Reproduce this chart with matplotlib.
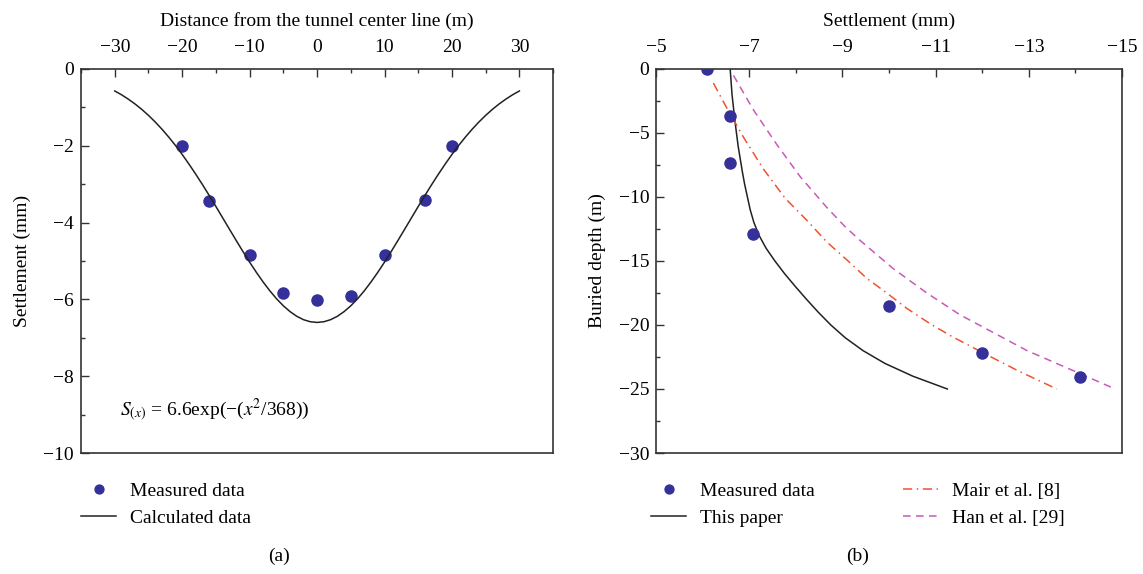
import numpy as np
import matplotlib
matplotlib.use("Agg")
import matplotlib.pyplot as plt
from matplotlib.ticker import MultipleLocator

plt.rcParams['font.family'] = ['Liberation Serif', 'DejaVu Serif']
plt.rcParams['mathtext.fontset'] = 'stix'
plt.rcParams['font.size'] = 14

# (a) transverse settlement trough
meas_x = [-20, -16, -10, -5, 0, 5, 10, 16, 20]
meas_s = [-2.01, -3.44, -4.84, -5.83, -6.02, -5.91, -4.84, -3.42, -2.01]

# calculated curve, half profile x = 0..30 (symmetric)
calc_half_x = list(range(0, 31))
calc_half_s = [-6.600, -6.582, -6.529, -6.441, -6.319, -6.167, -5.985, -5.777,
               -5.546, -5.296, -5.030, -4.751, -4.463, -4.170, -3.875, -3.581,
               -3.292, -3.009, -2.737, -2.475, -2.226, -1.991, -1.772, -1.568,
               -1.380, -1.208, -1.051, -0.910, -0.784, -0.671, -0.572]

# (b) settlement vs buried depth
depth_meas = [0, -3.65, -7.35, -12.9, -18.5, -22.2, -24.1]
sett_meas = [-6.1, -6.59, -6.59, -7.09, -10.0, -12.0, -14.1]

paper_depth = [0, -2, -4, -6, -8, -9, -10, -11, -12, -13, -14, -15, -16, -17,
               -18, -19, -20, -21, -22, -23, -24, -25]
paper_sett = [-6.59, -6.63, -6.69, -6.76, -6.85, -6.9, -6.96, -7.02, -7.1, -7.21,
              -7.36, -7.55, -7.76, -7.99, -8.23, -8.48, -8.75, -9.06, -9.44, -9.91,
              -10.51, -11.25]

mair_depth = [-1.1, -2.8, -5.3, -7.8, -10.1, -11.8, -13.5, -14.9, -16.35, -17.5,
              -18.7, -19.9, -20.9, -22.2, -23.6, -25]
mair_sett = [-6.23, -6.48, -6.87, -7.3, -7.77, -8.23, -8.66, -9.09, -9.52, -9.95,
             -10.38, -10.88, -11.35, -12.03, -12.78, -13.6]

han_depth = [-0.5, -3.2, -5.9, -8.4, -10.8, -12.3, -13.4, -15.6, -17.5, -19.2,
             -20.6, -22.0, -23.8, -25]
han_sett = [-6.66, -7.09, -7.59, -8.09, -8.66, -9.05, -9.38, -10.09, -10.81, -11.52,
            -12.24, -12.96, -14.1, -14.85]

dot_color = '#35309a'
spine_color = '#333333'

fig = plt.figure(figsize=(11.43, 5.74), dpi=100)
ax1 = fig.add_axes([0.0709, 0.2108, 0.413, 0.669])
ax2 = fig.add_axes([0.5740, 0.2108, 0.4077, 0.669])


def style(ax):
    for sp in ax.spines.values():
        sp.set_color(spine_color)
        sp.set_linewidth(1.2)
    ax.tick_params(which='both', direction='in', top=True, bottom=False,
                   left=True, right=False, labeltop=True, labelbottom=False,
                   color=spine_color, width=1)
    ax.tick_params(which='major', length=6)
    ax.tick_params(which='minor', length=3)
    ax.tick_params(axis='x', which='major', pad=9)
    ax.tick_params(axis='y', which='major', pad=5)
    ax.xaxis.set_label_position('top')


legend_kw = dict(frameon=False, borderpad=0, borderaxespad=0, handlelength=1.8,
                 handletextpad=0.7, labelspacing=0.5, markerscale=0.8)

# left panel
hx = np.array(calc_half_x, dtype=float)
hs = np.array(calc_half_s)
cx = np.concatenate([-hx[::-1], hx[1:]])
cs = np.concatenate([hs[::-1], hs[1:]])

ax1.plot(meas_x, meas_s, 'o', color=dot_color, ms=8, label='Measured data')
ax1.plot(cx, cs, '-', color='#222222', lw=1.1, label='Calculated data')
ax1.set_xlim(-35, 35)
ax1.set_ylim(-10, 0)
ax1.xaxis.set_minor_locator(MultipleLocator(5))
ax1.yaxis.set_major_locator(MultipleLocator(2))
ax1.yaxis.set_minor_locator(MultipleLocator(1))
ax1.set_xticks([-30, -20, -10, 0, 10, 20, 30])
style(ax1)
ax1.set_xlabel('Distance from the tunnel center line (m)', labelpad=10)
ax1.set_ylabel('Settlement (mm)', labelpad=9)
ax1.text(0.083, 0.112, r'$S_{(x)}$ = 6.6exp(−($x^2$/368))', transform=ax1.transAxes,
         ha='left', va='center')
ax1.legend(loc='upper left', bbox_to_anchor=(0.0, -0.076), **legend_kw)

# right panel
ax2.plot(sett_meas, depth_meas, 'o', color=dot_color, ms=8, zorder=3, label='Measured data')
ax2.plot(paper_sett, paper_depth, '-', color='#222222', lw=1.1, label='This paper')
ax2.plot(mair_sett, mair_depth, color='#f0522e', lw=1.1, dashes=(6, 3, 1, 3),
         label='Mair et al. [8]')
ax2.plot(han_sett, han_depth, color='#c85ab8', lw=1.1, dashes=(5, 3.5),
         label='Han et al. [29]')
ax2.set_xlim(-5, -15)
ax2.set_ylim(-30, 0)
ax2.xaxis.set_minor_locator(MultipleLocator(1))
ax2.set_xticks([-5, -7, -9, -11, -13, -15])
ax2.yaxis.set_major_locator(MultipleLocator(5))
ax2.yaxis.set_minor_locator(MultipleLocator(2.5))
style(ax2)
ax2.set_xlabel('Settlement (mm)', labelpad=10)
ax2.set_ylabel('Buried depth (m)', labelpad=9)

h, l = ax2.get_legend_handles_labels()
leg1 = ax2.legend(h[:2], l[:2], loc='upper left', bbox_to_anchor=(-0.01, -0.076),
                  **legend_kw)
ax2.add_artist(leg1)
ax2.legend(h[2:], l[2:], loc='upper left', bbox_to_anchor=(0.53, -0.076), **legend_kw)

fig.text(279 / 1143, 1 - 556 / 574, '(a)', ha='center', va='center')
fig.text(858 / 1143, 1 - 556 / 574, '(b)', ha='center', va='center')

fig.savefig('out.png', dpi=100)
